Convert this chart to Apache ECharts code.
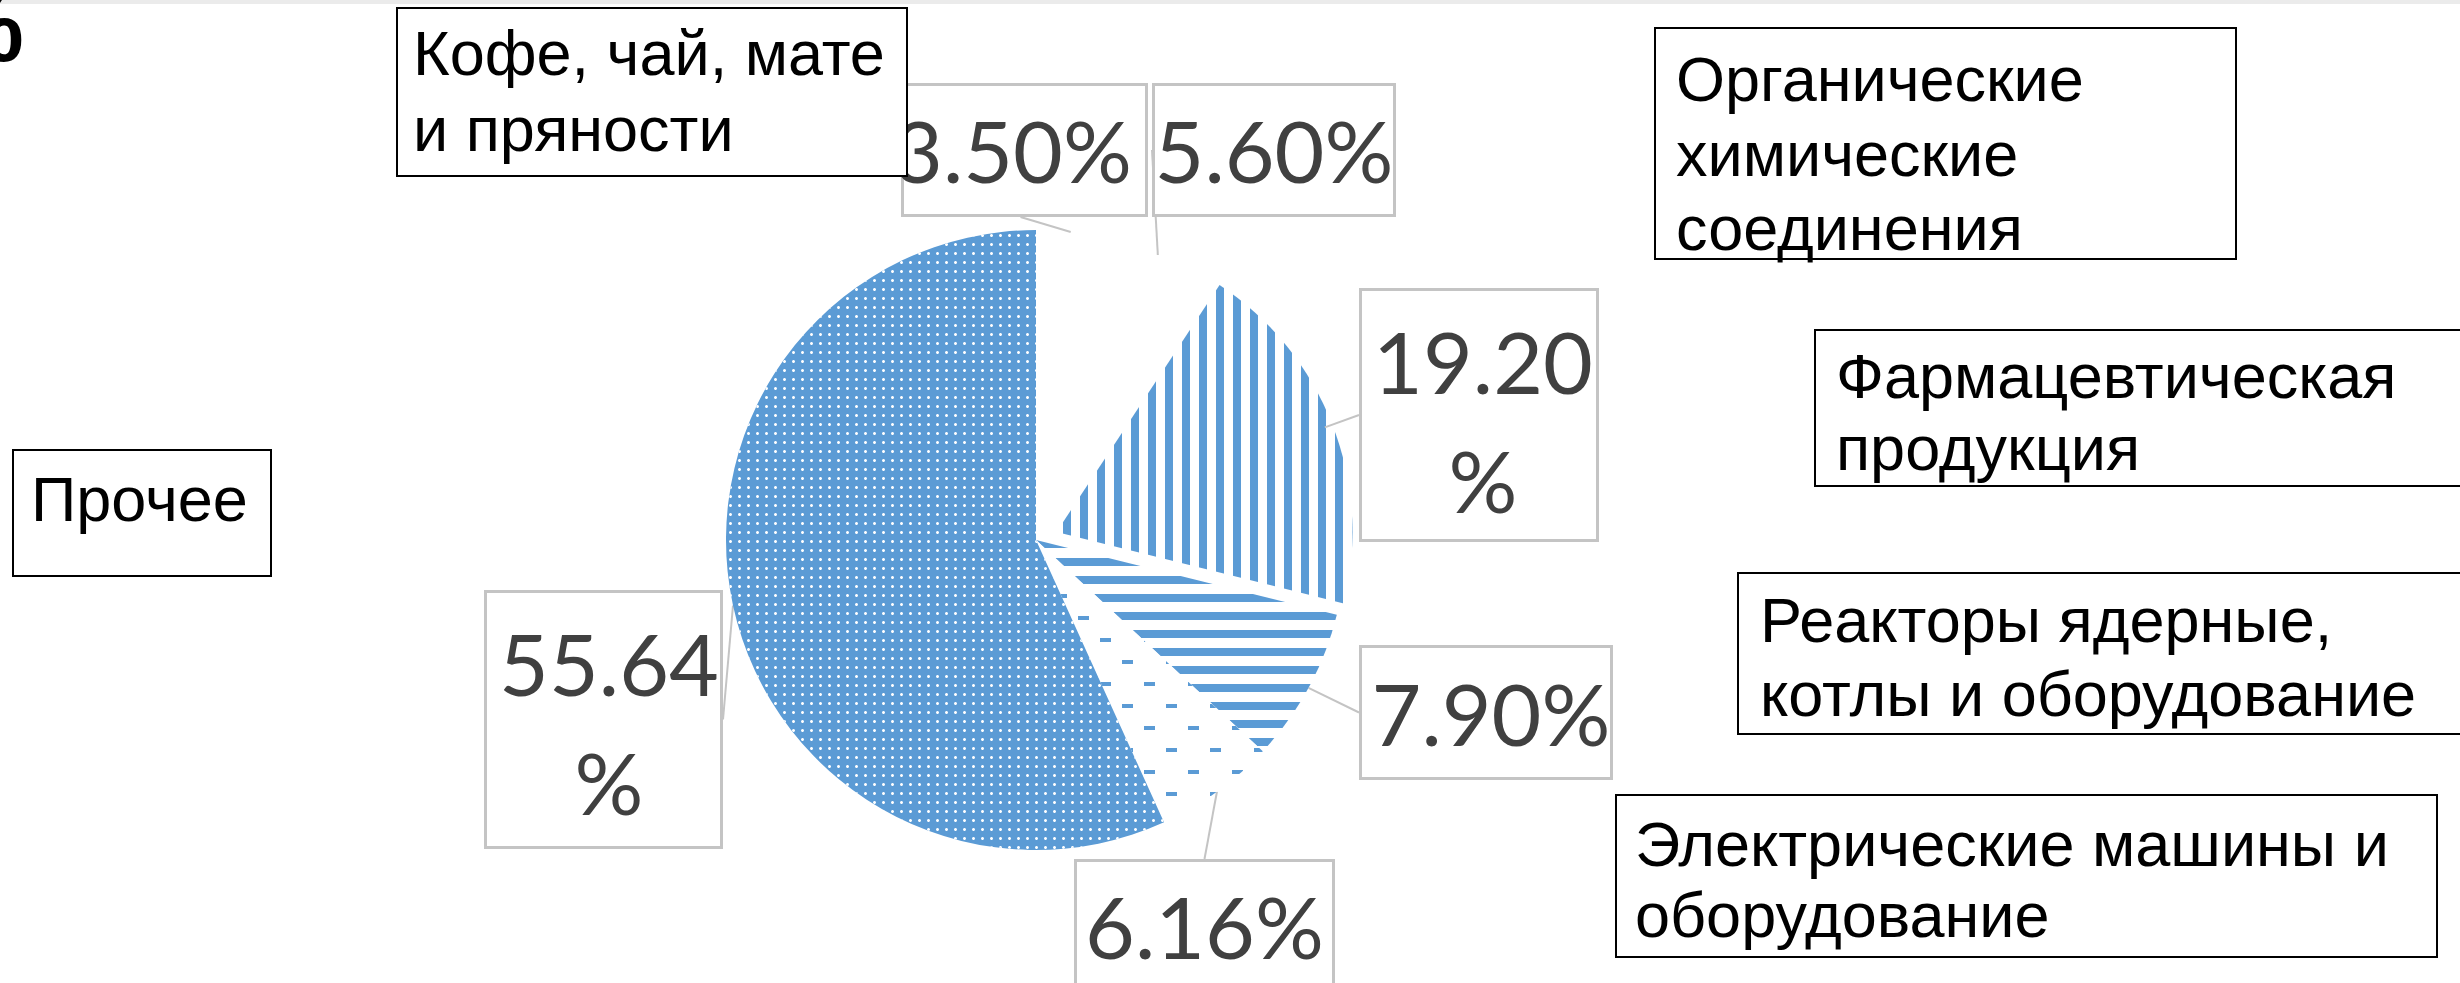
<!DOCTYPE html>
<html>
<head>
<meta charset="utf-8">
<script src="https://cdn.jsdelivr.net/npm/echarts@6/dist/echarts.min.js"></script>
<style>
  html, body { margin: 0; padding: 0; background: #fff; }
  #chart { width: 2460px; height: 983px; }
</style>
</head>
<body>
<div id="chart"></div>
<script>
// categories (text of the boxes, line breaks as in the slide)
const categories = [
  'Кофе, чай, мате\nи пряности',
  'Органические\nхимические\nсоединения',
  'Фармацевтическая\nпродукция',
  'Реакторы ядерные,\nкотлы и оборудование',
  'Электрические машины и\nоборудование',
  'Прочее'
];
// shares, %
const shares = [3.5, 5.6, 19.2, 7.9, 6.16, 55.64];
// the slice pulled out of the pie
const explodedIndex = 2;

// ---- layout & style (not data) ----
const BLUE = '#5b9bd5';
const PIE_CENTER = [1036, 540];
const PIE_RADIUS = 310;
const EXPLODED_RADIUS = 296;
const EXPLODE = 22;
const sliceFill = ['none', 'none', 'vstripe', 'hstripe', 'dash', 'dots'];
const fills = {
  none: { color: 'rgba(255,255,255,0)' },
  vstripe: { color: '#fff', decal: { symbol: 'rect', symbolSize: 1, color: BLUE, dashArrayX: [1, 0], dashArrayY: [8, 9], rotation: Math.PI / 2 } },
  hstripe: { color: '#fff', decal: { symbol: 'rect', symbolSize: 1, color: BLUE, dashArrayX: [1, 0], dashArrayY: [8, 10] } },
  dash: { color: '#fff', decal: { symbol: 'rect', symbolSize: 1, color: BLUE, dashArrayX: [[11, 33], [0, 22, 11, 11]], dashArrayY: [4, 18] } },
  dots: { color: BLUE, decal: { symbol: 'circle', symbolSize: 1, color: '#fff', dashArrayX: [3, 6], dashArrayY: [3, 6] } }
};

// percent label boxes: x, y, content width, padding [t, r, b, l]
const labelBoxes = [
  [904, 86, 217, [4, 24, 5, 0]],
  [1155, 86, 238, [4, 0, 5, 0]],
  [1362, 291, 226, [10, 0, 0, 8]],
  [1362, 648, 238, [5, 0, 5, 10]],
  [1077, 862, 255, [4, 0, 5, 0]],
  [487, 593, 222, [10, 0, 5, 11]]
];

// category text boxes: x, y, w, h, text dx, text dy, font size, line height
const nameBoxes = [
  [397, 8, 510, 168, 16, 7, 63, 76],
  [1655, 28, 581, 231, 21, 14, 63, 74.5],
  [1815, 330, 660, 156, 21, 10, 63, 72],
  [1738, 573, 740, 161, 22, 10, 63, 74],
  [1616, 795, 821, 162, 19, 13, 63, 71],
  [13, 450, 258, 126, 18, 12, 63, 74]
];

const total = shares.reduce((a, b) => a + b, 0);
const before = shares.slice(0, explodedIndex).reduce((a, b) => a + b, 0);
const midRad = (90 - (before + shares[explodedIndex] / 2) / total * 360) * Math.PI / 180;
const explodedCenter = [
  PIE_CENTER[0] + Math.cos(midRad) * EXPLODE,
  PIE_CENTER[1] - Math.sin(midRad) * EXPLODE
];

const chart = echarts.init(document.getElementById('chart'), null, { renderer: 'svg' });

// base pie: every slice except the pulled-out one, with all the labels
const baseData = shares.map((v, i) => ({
  name: categories[i],
  value: v,
  itemStyle: i === explodedIndex ? fills.none : fills[sliceFill[i]],
  label: {
    width: labelBoxes[i][2],
    padding: labelBoxes[i][3],
    overflow: (i === 2 || i === 5) ? 'breakAll' : 'none'
  }
}));

// same data again, only the pulled-out slice is painted
const explodedData = shares.map((v, i) => ({
  name: categories[i],
  value: v,
  itemStyle: i === explodedIndex ? fills[sliceFill[i]] : fills.none
}));

const boxGraphics = [];
categories.forEach((txt, i) => {
  const b = nameBoxes[i];
  boxGraphics.push({
    type: 'rect',
    zlevel: 1,
    z: 50,
    shape: { x: b[0], y: b[1], width: b[2], height: b[3] },
    style: { fill: '#fff', stroke: '#000', lineWidth: 2 }
  });
  boxGraphics.push({
    type: 'text',
    zlevel: 1,
    z: 51,
    x: b[0] + b[4],
    y: b[1] + b[5],
    style: {
      text: txt,
      fontFamily: 'Liberation Sans, Arial, sans-serif',
      fontSize: b[6],
      lineHeight: b[7],
      fill: '#000'
    }
  });
});

chart.setOption({
  backgroundColor: '#fff',
  animation: false,
  graphic: [
    {
      type: 'rect',
      zlevel: 1,
      z: 40,
      shape: { x: 0, y: 0, width: 2460, height: 4 },
      style: { fill: '#ebebeb' }
    },
    {
      type: 'text',
      zlevel: 1,
      z: 40,
      x: 24,
      y: 76,
      style: {
        text: '%',
        fontFamily: 'Liberation Sans, Arial, sans-serif',
        fontWeight: 'bold',
        fontSize: 100,
        fill: '#000',
        align: 'right',
        verticalAlign: 'bottom'
      }
    }
  ].concat(boxGraphics),
  series: [
    {
      type: 'pie',
      name: 'base',
      z: 2,
      center: PIE_CENTER,
      radius: PIE_RADIUS,
      startAngle: 90,
      clockwise: true,
      emphasis: { disabled: true },
      itemStyle: { borderWidth: 0 },
      label: {
        show: true,
        position: 'outside',
        formatter: (p) => p.value.toFixed(2) + '%',
        fontFamily: 'Lato, sans-serif',
        fontSize: 86,
        lineHeight: 119,
        color: '#404040',
        align: 'center',
        backgroundColor: '#fff',
        borderColor: '#c4c4c4',
        borderWidth: 3
      },
      labelLine: {
        show: true,
        length: 10,
        length2: 0,
        lineStyle: { color: '#c4c4c4', width: 2 }
      },
      labelLayout: (params) => {
        const b = labelBoxes[params.dataIndex];
        const outerW = b[2] + b[3][1] + b[3][3];
        return { x: b[0] + outerW / 2, y: b[1], align: 'center', verticalAlign: 'top' };
      },
      data: baseData
    },
    {
      type: 'pie',
      name: 'exploded',
      z: 1,
      silent: true,
      center: explodedCenter,
      radius: EXPLODED_RADIUS,
      startAngle: 90,
      clockwise: true,
      emphasis: { disabled: true },
      itemStyle: { borderWidth: 0 },
      label: { show: false },
      labelLine: { show: false },
      data: explodedData
    }
  ]
});
</script>
</body>
</html>
